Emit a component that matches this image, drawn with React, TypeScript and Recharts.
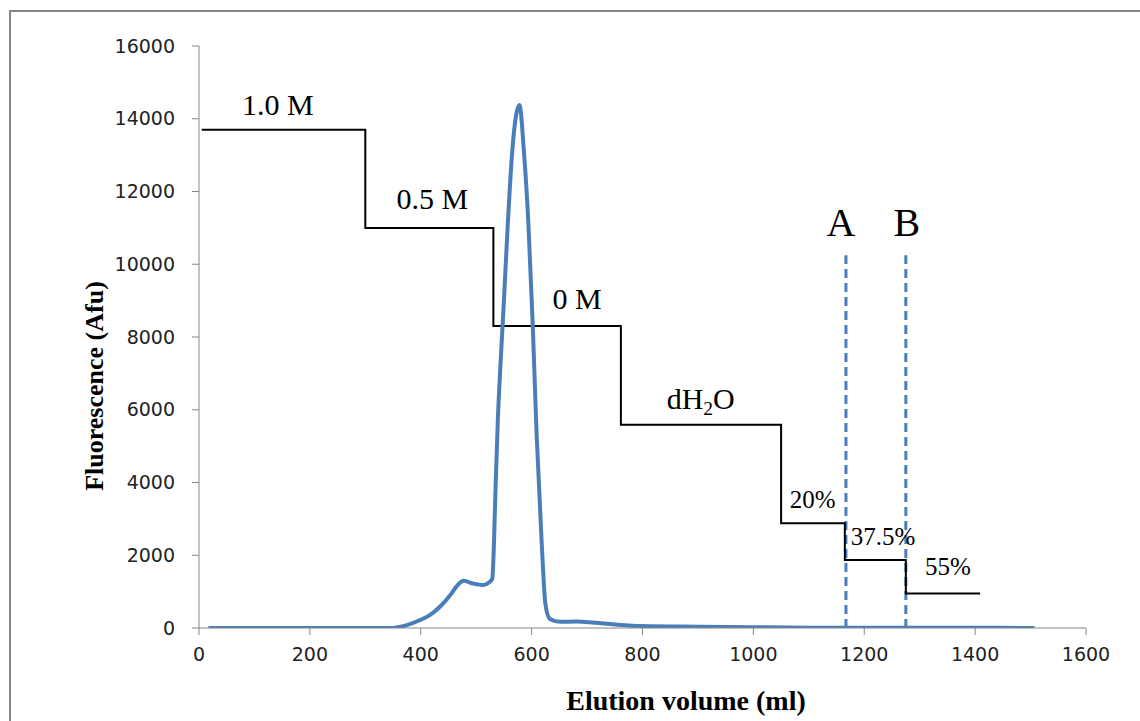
import React from 'react';
import {
  ComposedChart,
  Line,
  Scatter,
  XAxis,
  YAxis,
  ReferenceLine,
  Label,
} from 'recharts';

// fluorescence trace (elution volume in ml, fluorescence in Afu)
const curveVolume = [
  17, 100, 200, 300, 344, 375, 399, 417, 435, 453,
  465, 477, 495, 513, 523, 529, 532, 535, 539, 544,
  549, 557, 565, 572, 578, 586, 594, 602, 609, 618,
  625, 633, 651, 681, 747, 800, 900, 1000, 1100, 1200,
  1300, 1400, 1507,
];
const curveFluorescence = [
  0, 0, 0, 0, 0, 80, 220, 360, 590, 900,
  1150, 1300, 1220, 1180, 1250, 1350, 2300, 3900, 5700, 7300,
  8700, 11100, 13100, 14100, 14380, 13120, 11170, 8340, 5320, 2390,
  640, 250, 170, 180, 100, 55, 35, 20, 10, 5,
  10, 8, 0,
];

// elution gradient steps
const stepVolume = [5, 300, 531, 761, 1050, 1165, 1275, 1409];
const stepLevel = [13700, 11000, 8300, 5590, 2880, 1870, 950, 950];

// step annotations ("_2" = subscript 2)
const noteText = ['1.0 M', '0.5 M', '0 M', 'dH_2O', '20%', '37.5%', '55%', 'A', 'B'];
const noteVolume = [142, 421, 682, 905, 1107, 1234, 1351, 1158, 1277];
const noteLevel = [14100, 11510, 8780, 6020, 3300, 2280, 1460, 10780, 10780];

// fraction markers
const markerVolume = [1167, 1275];
const markerTop = 10250;

const xTicks = [0, 200, 400, 600, 800, 1000, 1200, 1400, 1600];
const yTicks = [0, 2000, 4000, 6000, 8000, 10000, 12000, 14000, 16000];

const curve = curveVolume.map((x, i) => ({ x, y: curveFluorescence[i] }));
const steps = stepVolume.map((x, i) => ({ x, y: stepLevel[i] }));
const notes = noteText.map((text, i) => ({ text, x: noteVolume[i], y: noteLevel[i] }));

const SERIF = "'Times New Roman', 'Liberation Serif', serif";
const BLUE = '#4a7ebb';
const GRAY = '#868686';

const noteSize = (text: string) => {
  if (text.length === 1) return 40;
  if (text.endsWith('%')) return 25;
  return 30;
};

const renderNote = (props: any) => {
  const { cx, cy, payload } = props;
  const size = noteSize(payload.text);
  const parts = payload.text.split(/_(\d)/);
  return (
    <text x={cx} y={cy} textAnchor="middle" fontFamily={SERIF} fontSize={size} fill="#000">
      {parts.map((p: string, i: number) =>
        i % 2 === 1 ? (
          <tspan key={i} dy={6} fontSize={size * 0.65}>{p}</tspan>
        ) : (
          <tspan key={i} dy={i > 0 ? -6 : 0}>{p}</tspan>
        )
      )}
    </text>
  );
};

const renderXTitle = () => (
  <text x={686} y={710} textAnchor="middle" fontFamily={SERIF} fontWeight="bold" fontSize={28} fill="#000">
    Elution volume (ml)
  </text>
);

const renderYTitle = () => (
  <text
    x={103}
    y={386}
    transform="rotate(-90 103 386)"
    textAnchor="middle"
    fontFamily={SERIF}
    fontWeight="bold"
    fontSize={26}
    fill="#000"
  >
    Fluorescence (Afu)
  </text>
);

const tickStyle = { fill: '#222', fontSize: 19, fontFamily: "'DejaVu Sans', sans-serif" };

export default function App() {
  return (
    <div style={{ position: 'fixed', left: 0, top: 0, width: 1140, height: 721, overflow: 'hidden', background: '#fff' }}>
      <div
        style={{
          position: 'absolute',
          left: 9,
          top: 10,
          width: 1131,
          height: 711,
          boxSizing: 'border-box',
          borderTop: `2px solid ${GRAY}`,
          borderLeft: `2px solid ${GRAY}`,
        }}
      />
      <div style={{ position: 'absolute', left: 0, top: 0 }}>
        <ComposedChart width={1140} height={721} margin={{ top: 46, right: 54, left: 0, bottom: 33 }}>
          <XAxis
            type="number"
            dataKey="x"
            domain={[0, 1600]}
            ticks={xTicks}
            interval={0}
            height={60}
            stroke={GRAY}
            tickSize={7}
            tickMargin={13}
            tick={tickStyle}
            allowDataOverflow
          >
            <Label content={renderXTitle} />
          </XAxis>
          <YAxis
            type="number"
            dataKey="y"
            domain={[0, 16000]}
            ticks={yTicks}
            interval={0}
            width={199}
            stroke={GRAY}
            tickSize={7}
            tickMargin={17}
            tick={tickStyle}
            allowDataOverflow
          >
            <Label content={renderYTitle} />
          </YAxis>

          {markerVolume.map((v) => (
            <ReferenceLine
              key={v}
              segment={[{ x: v, y: 0 }, { x: v, y: markerTop }]}
              stroke={BLUE}
              strokeWidth={3}
              strokeDasharray="9 5"
            />
          ))}

          <Line
            data={steps}
            dataKey="y"
            type="stepAfter"
            stroke="#000"
            strokeWidth={2}
            dot={false}
            isAnimationActive={false}
          />
          <Line
            data={curve}
            dataKey="y"
            type="monotone"
            stroke={BLUE}
            strokeWidth={4}
            dot={false}
            isAnimationActive={false}
          />
          <Scatter data={notes} dataKey="y" shape={renderNote} isAnimationActive={false} />
        </ComposedChart>
      </div>
    </div>
  );
}
